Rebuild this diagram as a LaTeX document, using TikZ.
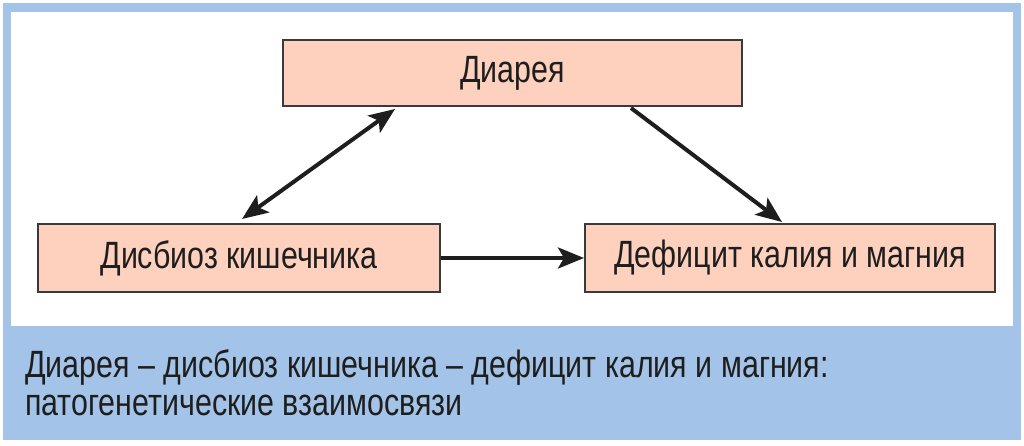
\documentclass[tikz,border=0pt]{standalone}
\usepackage{fontspec}
\setmainfont{Liberation Sans}[FakeStretch=0.8]
\usetikzlibrary{arrows.meta,calc}
\definecolor{frameblue}{HTML}{A3C4E8}
\definecolor{boxfill}{HTML}{FDD1BE}
\definecolor{boxline}{HTML}{3A3A3A}
\definecolor{ink}{HTML}{1E1E1E}
\begin{document}
\begin{tikzpicture}[x=1pt,y=-1pt,
  box/.style={draw=boxline, line width=2pt, fill=boxfill, text=ink,
    font=\fontsize{38}{44}\selectfont, inner sep=0pt},
  link/.style={draw=ink, line width=4pt, -{Stealth[length=26pt,width=21pt,inset=6pt]}},
  bilink/.style={draw=ink, line width=4pt, {Stealth[length=26pt,width=21pt,inset=6pt]}-{Stealth[length=26pt,width=21pt,inset=6pt]}},
  caption/.style={anchor=base west, inner sep=0pt, text=ink, font=\fontsize{38}{44}\selectfont},
]
\useasboundingbox (0,0) rectangle (1024,446);
\fill[white] (0,0) rectangle (1024,446);
\fill[frameblue] (3,3) rectangle (1021,440);
\fill[white] (11,12) rectangle (1013,326);

\node[box, minimum width=459pt, minimum height=66pt] (d) at (512.5,73) {Диарея};
\node[box, minimum width=402pt, minimum height=68pt] (b) at (239,258) {Дисбиоз кишечника};
\node[box, minimum width=410pt, minimum height=68pt] (c) at (790,258) {Дефицит калия и магния};

\draw[bilink] ($(d.south west)+(113,2)$) -- ($(b.north west)+(205,-4)$);
\draw[link] ($(d.south east)+(-112,1)$) -- ($(c.north west)+(198,-1)$);
\draw[link] (b.east) -- (c.west);

\node[caption] (cap1) at (25,377) {Диарея – дисбиоз кишечника – дефицит калия и магния:};
\node[caption] (cap2) at (25,415) {патогенетические взаимосвязи};
\end{tikzpicture}
\end{document}
